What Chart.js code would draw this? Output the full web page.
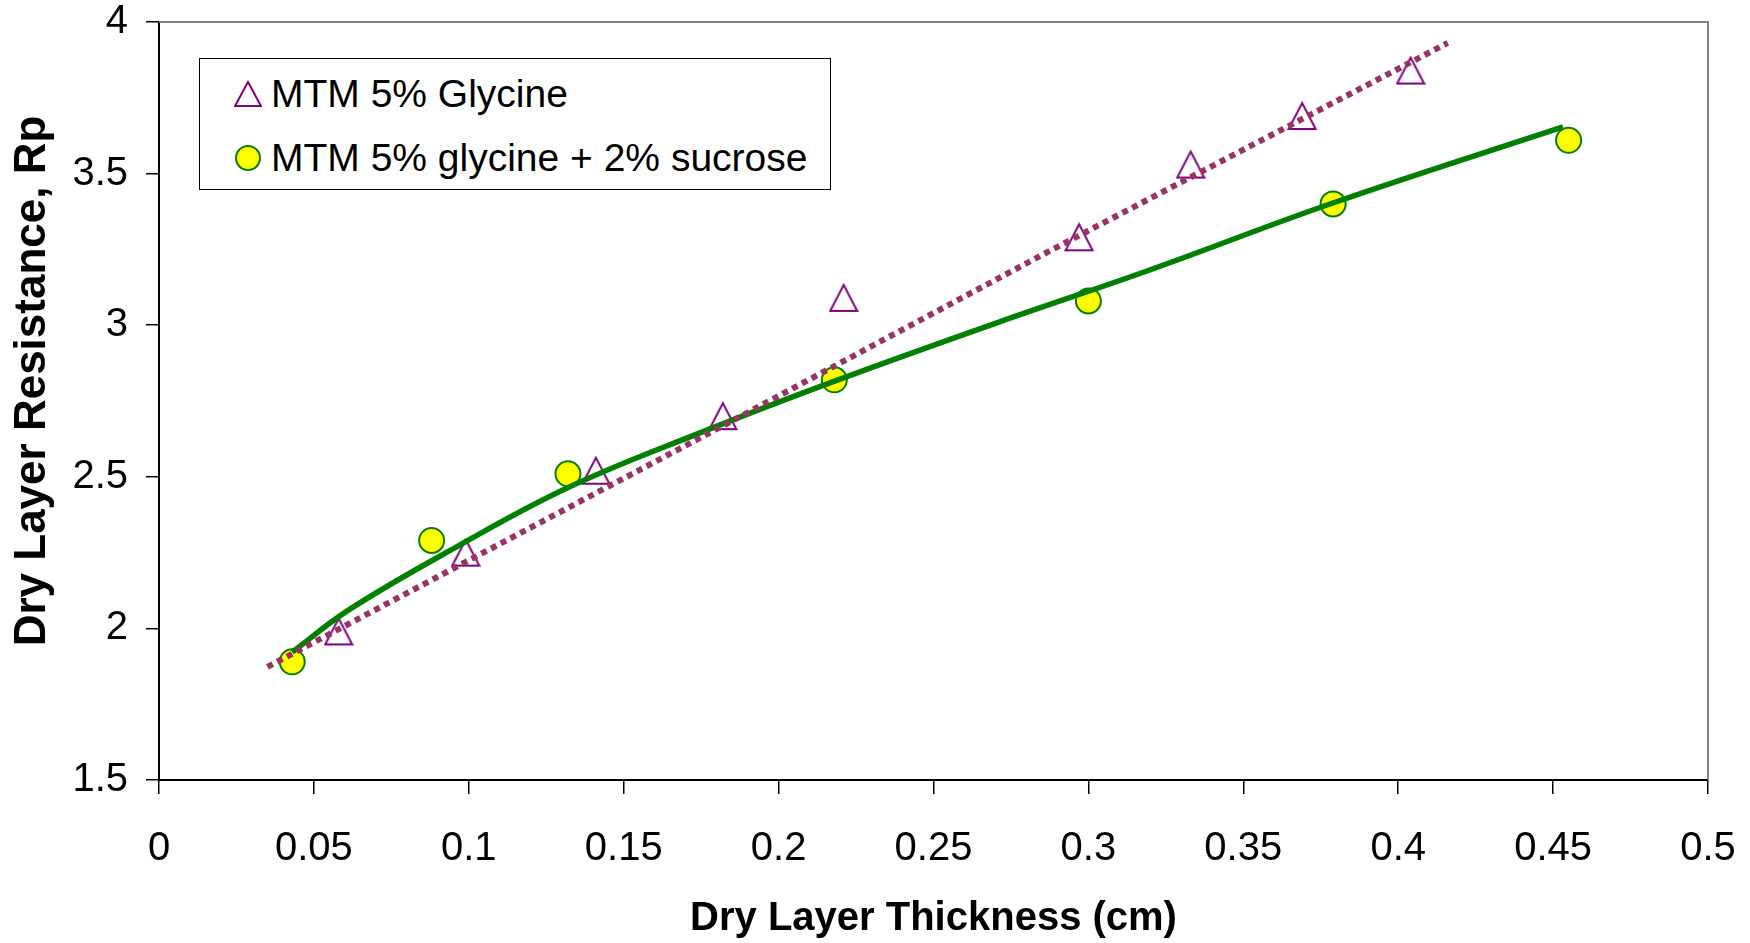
<!DOCTYPE html>
<html>
<head>
<meta charset="utf-8">
<script src="https://cdn.jsdelivr.net/npm/chart.js@4.4.1/dist/chart.umd.min.js"></script>
<style>
  body { margin: 0; background: #fff; }
  #wrap { position: relative; width: 1750px; height: 943px; }
  #legend {
    position: absolute; left: 199px; top: 58px; width: 630px; height: 130px;
    border: 1.5px solid #000; background: #fff;
    font-family: "Liberation Sans", Arial, sans-serif; font-size: 39px; color: #000;
  }
  .row { position: absolute; left: 0; height: 50px; display: flex; align-items: center; }
  .row svg { margin-left: 34px; margin-right: 9px; }
</style>
</head>
<body>
<div id="wrap">
  <canvas id="chart" width="1750" height="943"></canvas>
  <div id="legend"></div>
</div>
<script>
const xTickLabels = ["0", "0.05", "0.1", "0.15", "0.2", "0.25", "0.3", "0.35", "0.4", "0.45", "0.5"];
const yTickLabels = ["1.5", "2", "2.5", "3", "3.5", "4"];
const xTitle = "Dry Layer Thickness (cm)";
const yTitle = "Dry Layer Resistance, Rp";

const glycineLabel = "MTM 5% Glycine";
const glycineX = [0.058, 0.099, 0.141, 0.182, 0.221, 0.297, 0.333, 0.369, 0.404];
const glycineY = [1.99, 2.25, 2.52, 2.70, 3.09, 3.29, 3.53, 3.69, 3.84];

const sucroseLabel = "MTM 5% glycine + 2% sucrose";
const sucroseX = [0.043, 0.088, 0.132, 0.218, 0.300, 0.379, 0.455];
const sucroseY = [1.89, 2.29, 2.51, 2.82, 3.08, 3.40, 3.61];

// trend lines
const glycineTrendX = [0.035, 0.175, 0.2875, 0.416];
const glycineTrendY = [1.873, 2.63, 3.245, 3.931];
const sucroseTrendX = [0.043, 0.0614, 0.0959, 0.1324, 0.1744, 0.2174, 0.2713, 0.3198, 0.3789, 0.4532];
const sucroseTrendY = [1.922, 2.062, 2.268, 2.466, 2.644, 2.813, 3.011, 3.182, 3.403, 3.654];

const FONT = '"Liberation Sans", Arial, sans-serif';

function toPoints(xs, ys) {
  return xs.map((x, i) => ({ x: x, y: ys[i] }));
}

// hollow triangle marker centred on its box, like the original
function triangleMarker() {
  const c = document.createElement("canvas");
  c.width = 30;
  c.height = 30;
  const ctx = c.getContext("2d");
  ctx.strokeStyle = "#800080";
  ctx.lineWidth = 2;
  ctx.beginPath();
  ctx.moveTo(15, 2);
  ctx.lineTo(28.5, 28);
  ctx.lineTo(1.5, 28);
  ctx.closePath();
  ctx.stroke();
  return c;
}

// gray frame on top/right of the plot + the y title (sits a bit above centre in the original)
const plotFrame = {
  id: "plotFrame",
  beforeDatasetsDraw(chart) {
    const a = chart.chartArea;
    const ctx = chart.ctx;
    ctx.save();
    ctx.strokeStyle = "#808080";
    ctx.lineWidth = 2;
    ctx.beginPath();
    ctx.moveTo(a.left, a.top);
    ctx.lineTo(a.right, a.top);
    ctx.lineTo(a.right, a.bottom);
    ctx.stroke();
    ctx.restore();
  },
  afterDraw(chart) {
    const ctx = chart.ctx;
    const a = chart.chartArea;
    ctx.save();
    ctx.translate(33, (a.top + a.bottom) / 2 - 20);
    ctx.rotate(-Math.PI / 2);
    ctx.font = "bold 44px " + FONT;
    ctx.fillStyle = "#000";
    ctx.textAlign = "center";
    ctx.textBaseline = "middle";
    ctx.fillText(yTitle, 0, 0);
    ctx.restore();
  },
};

const chart = new Chart(document.getElementById("chart"), {
  type: "scatter",
  data: {
    datasets: [
      {
        label: glycineLabel + " trend",
        data: toPoints(glycineTrendX, glycineTrendY),
        showLine: true,
        borderColor: "#993366",
        borderWidth: 6,
        borderDash: [6, 5],
        borderCapStyle: "butt",
        pointRadius: 0,
        order: 0,
      },
      {
        label: sucroseLabel + " trend",
        data: toPoints(sucroseTrendX, sucroseTrendY),
        showLine: true,
        borderColor: "#008000",
        borderWidth: 5.5,
        tension: 0.4,
        pointRadius: 0,
        order: 0,
      },
      {
        label: glycineLabel,
        data: toPoints(glycineX, glycineY),
        pointStyle: triangleMarker(),
        order: 1,
      },
      {
        label: sucroseLabel,
        data: toPoints(sucroseX, sucroseY),
        pointStyle: "circle",
        pointRadius: 12.5,
        pointBackgroundColor: "#ffff00",
        pointBorderColor: "#008000",
        pointBorderWidth: 2,
        order: 1,
      },
    ],
  },
  options: {
    responsive: false,
    devicePixelRatio: 1,
    animation: false,
    layout: { padding: { left: 0, right: 42, top: 22, bottom: 0 } },
    plugins: { legend: { display: false }, tooltip: { enabled: false } },
    scales: {
      x: {
        type: "linear",
        min: 0,
        max: 0.5,
        afterFit(scale) {
          scale.height = 163;
          scale.paddingLeft = 0;
          scale.paddingRight = 0;
        },
        ticks: {
          stepSize: 0.05,
          padding: 33,
          color: "#000",
          font: { family: FONT, size: 40, lineHeight: 1.1 },
          callback: (v, i) => xTickLabels[i],
        },
        grid: { drawOnChartArea: false, drawTicks: true, tickLength: 14, color: "#000", lineWidth: 1.5 },
        border: { display: true, color: "#000", width: 2 },
        title: {
          display: true,
          text: xTitle,
          color: "#000",
          font: { family: FONT, size: 40, weight: "bold", lineHeight: 1.2 },
          padding: { top: 0, bottom: 0 },
        },
      },
      y: {
        type: "linear",
        min: 1.5,
        max: 4,
        afterFit(scale) {
          scale.width = 159;
          scale.paddingTop = 0;
          scale.paddingBottom = 0;
        },
        ticks: {
          stepSize: 0.5,
          padding: 18,
          color: "#000",
          font: { family: FONT, size: 40, lineHeight: 1.1 },
          callback: (v, i) => yTickLabels[i],
        },
        grid: { drawOnChartArea: false, drawTicks: true, tickLength: 13, color: "#000", lineWidth: 1.5 },
        border: { display: true, color: "#000", width: 2 },
      },
    },
  },
  plugins: [plotFrame],
});

// legend box built from the two marker datasets
const legend = document.getElementById("legend");
const entries = [
  { text: chart.data.datasets[2].label, top: 10,
    svg: '<svg width="28" height="28"><polygon points="14,2 27,26 1,26" fill="none" stroke="#800080" stroke-width="2"/></svg>' },
  { text: chart.data.datasets[3].label, top: 74,
    svg: '<svg width="28" height="28"><circle cx="14" cy="14" r="12" fill="#ffff00" stroke="#008000" stroke-width="2"/></svg>' },
];
entries.forEach((e) => {
  const row = document.createElement("div");
  row.className = "row";
  row.style.top = e.top + "px";
  row.innerHTML = e.svg + "<span>" + e.text + "</span>";
  legend.appendChild(row);
});
</script>
</body>
</html>
